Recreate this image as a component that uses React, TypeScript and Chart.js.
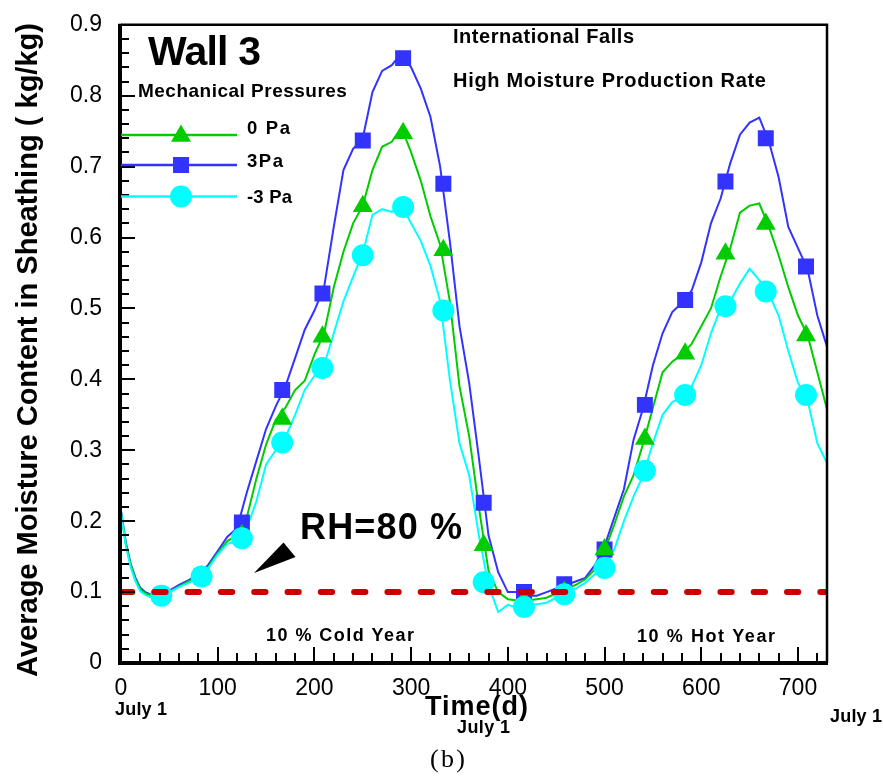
import React, { useEffect, useRef } from 'react';
import { Chart, registerables } from 'chart.js';
import { drawPoint } from 'chart.js/helpers';

Chart.register(...registerables);

// ---------- data ----------
const days = [0, 5, 10, 15, 20, 25, 30, 40, 50, 60, 70, 80, 90, 100, 110, 120, 130, 140, 150, 160, 170, 180, 190, 200, 210, 220, 230, 240, 250, 260, 270, 280, 290, 300, 310, 320, 330, 340, 350, 360, 370, 380, 390, 400, 410, 420, 430, 440, 450, 460, 470, 480, 490, 500, 510, 520, 530, 540, 550, 560, 570, 580, 590, 600, 610, 620, 630, 640, 650, 660, 670, 680, 690, 700, 710, 720, 730];

const pa3 = [0.215, 0.17, 0.14, 0.12, 0.106, 0.1, 0.097, 0.095, 0.102, 0.11, 0.117, 0.125, 0.138, 0.158, 0.178, 0.19, 0.24, 0.285, 0.33, 0.362, 0.39, 0.43, 0.47, 0.497, 0.53, 0.615, 0.695, 0.725, 0.74, 0.805, 0.835, 0.843, 0.86, 0.84, 0.81, 0.77, 0.7, 0.595, 0.475, 0.395, 0.29, 0.18, 0.128, 0.1, 0.1, 0.095, 0.095, 0.1, 0.105, 0.11, 0.115, 0.12, 0.138, 0.165, 0.205, 0.245, 0.315, 0.36, 0.42, 0.465, 0.495, 0.508, 0.525, 0.565, 0.62, 0.655, 0.705, 0.745, 0.762, 0.769, 0.735, 0.685, 0.615, 0.585, 0.555, 0.49, 0.446];

const pa0 = [0.213, 0.168, 0.138, 0.118, 0.104, 0.098, 0.096, 0.094, 0.1, 0.108, 0.115, 0.122, 0.135, 0.155, 0.172, 0.18, 0.205, 0.26, 0.308, 0.343, 0.36, 0.385, 0.398, 0.435, 0.465, 0.53, 0.58, 0.62, 0.645, 0.695, 0.728, 0.735, 0.755, 0.72, 0.68, 0.63, 0.59, 0.51, 0.39, 0.32, 0.22, 0.13, 0.1, 0.09, 0.088, 0.088, 0.09, 0.092, 0.098, 0.105, 0.11, 0.118, 0.132, 0.158, 0.195, 0.235, 0.265, 0.31, 0.36, 0.41, 0.425, 0.435, 0.45, 0.475, 0.5, 0.545, 0.585, 0.635, 0.645, 0.648, 0.615, 0.575, 0.53, 0.49, 0.462, 0.41, 0.358];

const paM3 = [0.212, 0.165, 0.135, 0.115, 0.101, 0.096, 0.093, 0.092, 0.1, 0.107, 0.113, 0.12, 0.133, 0.153, 0.168, 0.172, 0.19, 0.228, 0.28, 0.3, 0.318, 0.35, 0.385, 0.405, 0.42, 0.465, 0.51, 0.545, 0.578, 0.632, 0.64, 0.636, 0.645, 0.62, 0.595, 0.56, 0.51, 0.4, 0.31, 0.265, 0.18, 0.11, 0.072, 0.082, 0.078, 0.08, 0.083, 0.085, 0.092, 0.1, 0.105, 0.113, 0.125, 0.135, 0.16, 0.2, 0.235, 0.265, 0.31, 0.35, 0.368, 0.375, 0.39, 0.42, 0.465, 0.5, 0.51, 0.535, 0.556, 0.54, 0.52, 0.49, 0.44, 0.395, 0.37, 0.31, 0.282];

const markerDays = [41.7, 83.3, 125, 166.7, 208.3, 250, 291.7, 333.3, 375, 416.7, 458.3, 500, 541.7, 583.3, 625, 666.7, 708.3];
const pa3Markers = [0.095, 0.122, 0.198, 0.385, 0.521, 0.737, 0.853, 0.676, 0.226, 0.1, 0.111, 0.16, 0.364, 0.512, 0.679, 0.74, 0.559];
const pa0Markers = [0.094, 0.122, 0.18, 0.344, 0.46, 0.644, 0.747, 0.582, 0.166, 0.088, 0.1, 0.16, 0.316, 0.436, 0.577, 0.619, 0.462];
const paM3Markers = [0.095, 0.122, 0.176, 0.311, 0.416, 0.575, 0.643, 0.497, 0.114, 0.079, 0.097, 0.134, 0.271, 0.378, 0.503, 0.524, 0.378];

const rhDays = [0, 730];
const rhValues = [0.1, 0.1];

const xTickValues = [0, 100, 200, 300, 400, 500, 600, 700];
const xTickLabels = ['0', '100', '200', '300', '400', '500', '600', '700'];
const yTickValues = [0, 0.1, 0.2, 0.3, 0.4, 0.5, 0.6, 0.7, 0.8, 0.9];
const yTickLabels = ['0', '0.1', '0.2', '0.3', '0.4', '0.5', '0.6', '0.7', '0.8', '0.9'];
const xMinorStep = 20;
const yMinorStep = 0.02;

const seriesNames = ['0 Pa', '3Pa', '-3 Pa'];

// ---------- styles ----------
const BLUE = '#3333ff';
const GREEN = '#00cc00';
const CYAN = '#00ffff';
const RED = '#cc0000';
const SANS = '"Liberation Sans", Arial, Helvetica, sans-serif';

const pts = (xs: number[], ys: number[]) => xs.map((x, i) => ({ x, y: ys[i] }));

function drawText(ctx: CanvasRenderingContext2D, text: string, x: number, y: number, font: string, width?: number, align: CanvasTextAlign = 'left') {
  ctx.save();
  ctx.font = font;
  ctx.fillStyle = '#000';
  ctx.textAlign = align;
  ctx.textBaseline = 'alphabetic';
  const anyCtx = ctx as any;
  anyCtx.letterSpacing = '0px';
  if (width && text.length > 1) {
    const w = ctx.measureText(text).width;
    const sp = (width - w) / (text.length - 1);
    anyCtx.letterSpacing = sp.toFixed(2) + 'px';
  }
  ctx.fillText(text, x, y);
  anyCtx.letterSpacing = '0px';
  ctx.restore();
}

const decorPlugin = {
  id: 'decor',
  afterDatasetsDraw(chart: any) {
    const ctx: CanvasRenderingContext2D = chart.ctx;
    const { left, right, top, bottom } = chart.chartArea;
    const xs = chart.scales.x;
    const ys = chart.scales.y;
    ctx.save();
    ctx.strokeStyle = '#000';
    ctx.lineCap = 'butt';

    // ticks (inside)
    ctx.lineWidth = 2;
    for (let v = 0; v <= 0.9001; v += yMinorStep) {
      const py = Math.round(ys.getPixelForValue(v));
      const major = Math.abs(v * 10 - Math.round(v * 10)) < 1e-6;
      ctx.beginPath();
      ctx.moveTo(left, py);
      ctx.lineTo(left + (major ? 14 : 8), py);
      ctx.stroke();
    }
    for (let v = 0; v <= 730; v += xMinorStep) {
      const px = Math.round(xs.getPixelForValue(v));
      const major = v % 100 === 0;
      ctx.beginPath();
      ctx.moveTo(px, bottom);
      ctx.lineTo(px, bottom - (major ? 16 : 10));
      ctx.stroke();
    }

    // frame
    ctx.lineWidth = 2.5;
    ctx.beginPath();
    ctx.moveTo(left, top);
    ctx.lineTo(right, top);
    ctx.lineTo(right, bottom);
    ctx.stroke();
    ctx.lineWidth = 4;
    ctx.beginPath();
    ctx.moveTo(left - 1, top - 1);
    ctx.lineTo(left - 1, bottom);
    ctx.lineTo(right + 1, bottom);
    ctx.stroke();

    // legend
    const legend = [
      { name: seriesNames[0], color: GREEN, style: 'triangle', r: 11.5, ly: 135, ty: 134, w: 43 },
      { name: seriesNames[1], color: BLUE, style: 'rect', r: 11.3, ly: 165, ty: 167, w: 36 },
      { name: seriesNames[2], color: CYAN, style: 'circle', r: 11, ly: 196.5, ty: 202.5, w: 45 },
    ];
    legend.forEach((l) => {
      ctx.strokeStyle = l.color;
      ctx.lineWidth = 2.5;
      ctx.beginPath();
      ctx.moveTo(left, l.ly);
      ctx.lineTo(left + 116, l.ly);
      ctx.stroke();
      ctx.fillStyle = l.color;
      drawPoint(ctx, { pointStyle: l.style as any, radius: l.r, rotation: 0, borderWidth: 0 } as any, left + 60, l.style === 'triangle' ? l.ly + 1 : l.ly);
      drawText(ctx, l.name, 247, l.ty, `bold 18.5px ${SANS}`, l.w);
    });

    // titles and notes
    drawText(ctx, 'Wall 3', 148, 65, `bold 41px ${SANS}`, 113);
    drawText(ctx, 'Mechanical Pressures', 138, 97, `bold 19px ${SANS}`, 209);
    drawText(ctx, 'International Falls', 453, 43, `bold 20px ${SANS}`, 181);
    drawText(ctx, 'High Moisture Production Rate', 453, 87, `bold 20px ${SANS}`, 313);
    drawText(ctx, 'RH=80 %', 300, 539, `bold 36px ${SANS}`, 162);
    drawText(ctx, '10 % Cold Year', 266, 641, `bold 18px ${SANS}`, 148);
    drawText(ctx, '10 % Hot Year', 637, 642, `bold 18px ${SANS}`, 138);

    // arrow wedge
    ctx.fillStyle = '#000';
    ctx.beginPath();
    ctx.moveTo(254, 573);
    ctx.lineTo(283.5, 542.5);
    ctx.lineTo(295.5, 557);
    ctx.closePath();
    ctx.fill();

    ctx.restore();
  },
  afterDraw(chart: any) {
    const ctx: CanvasRenderingContext2D = chart.ctx;
    drawText(ctx, 'Time(d)', 425, 715, `bold 27px ${SANS}`, 103);
    drawText(ctx, 'July 1', 115, 715, `bold 18px ${SANS}`, 52);
    drawText(ctx, 'July 1', 457, 733, `bold 18px ${SANS}`, 53);
    drawText(ctx, 'July 1', 830, 722, `bold 18px ${SANS}`, 52);
    drawText(ctx, '(b)', 430, 767, `26px "Liberation Serif", "Times New Roman", serif`, 35);
    // y axis title
    ctx.save();
    ctx.translate(37, 350);
    ctx.rotate(-Math.PI / 2);
    drawText(ctx, 'Average Moisture Content in Sheathing ( kg/kg)', 0, 0, `bold 29px ${SANS}`, 654, 'center');
    ctx.restore();
  },
};

export default function App() {
  const ref = useRef<HTMLCanvasElement>(null);
  useEffect(() => {
    if (!ref.current) return;
    const lineDs = (label: string, ys: number[], color: string, order: number) => ({
      label,
      data: pts(days, ys),
      borderColor: color,
      backgroundColor: color,
      borderWidth: 2,
      pointRadius: 0,
      tension: 0,
      fill: false,
      order,
    });
    const markDs = (label: string, ys: number[], color: string, style: string, r: number, order: number) => ({
      label,
      data: pts(markerDays, ys),
      showLine: false,
      pointStyle: style,
      pointRadius: r,
      pointBackgroundColor: color,
      pointBorderColor: color,
      pointBorderWidth: 0,
      order,
    });
    const chart = new Chart(ref.current, {
      type: 'line',
      data: {
        datasets: [
          {
            label: 'RH=80 %',
            data: pts(rhDays, rhValues),
            borderColor: RED,
            borderWidth: 6,
            borderDash: [11.3, 22],
            borderCapStyle: 'round',
            pointRadius: 0,
            fill: false,
            order: 0,
          } as any,
          markDs(seriesNames[2] + ' markers', paM3Markers, CYAN, 'circle', 11, 1),
          markDs(seriesNames[0] + ' markers', pa0Markers, GREEN, 'triangle', 11.5, 2),
          markDs(seriesNames[1] + ' markers', pa3Markers, BLUE, 'rect', 11.3, 3),
          lineDs(seriesNames[2], paM3, CYAN, 4),
          lineDs(seriesNames[0], pa0, GREEN, 5),
          lineDs(seriesNames[1], pa3, BLUE, 6),
        ],
      },
      options: {
        animation: false,
        responsive: false,
        devicePixelRatio: 1,
        layout: { padding: { left: 0, top: 15, right: 56, bottom: 0 } },
        plugins: { legend: { display: false }, tooltip: { enabled: false }, title: { display: false } },
        scales: {
          x: {
            type: 'linear',
            min: 0,
            max: 730,
            grid: { display: false },
            border: { display: false },
            afterBuildTicks: (s: any) => { s.ticks = xTickValues.map((v) => ({ value: v })); },
            afterFit: (s: any) => { s.height = 115; },
            ticks: {
              autoSkip: false,
              maxRotation: 0,
              padding: 4,
              color: '#000',
              font: { family: SANS, size: 23 },
              callback: (_v: any, i: number) => xTickLabels[i],
            },
          },
          y: {
            type: 'linear',
            min: 0,
            max: 0.9,
            grid: { display: false },
            border: { display: false },
            afterBuildTicks: (s: any) => { s.ticks = yTickValues.map((v) => ({ value: v })); },
            afterFit: (s: any) => { s.width = 121; },
            ticks: {
              padding: 11,
              color: '#000',
              font: { family: SANS, size: 23 },
              callback: (_v: any, i: number) => yTickLabels[i],
            },
          },
        },
      } as any,
      plugins: [decorPlugin],
    });
    return () => chart.destroy();
  }, []);
  return (
    <div style={{ position: 'absolute', left: 0, top: 0, width: 883, height: 778, background: '#fff' }}>
      <canvas ref={ref} width={883} height={778} style={{ display: 'block', width: 883, height: 778 }} />
    </div>
  );
}
